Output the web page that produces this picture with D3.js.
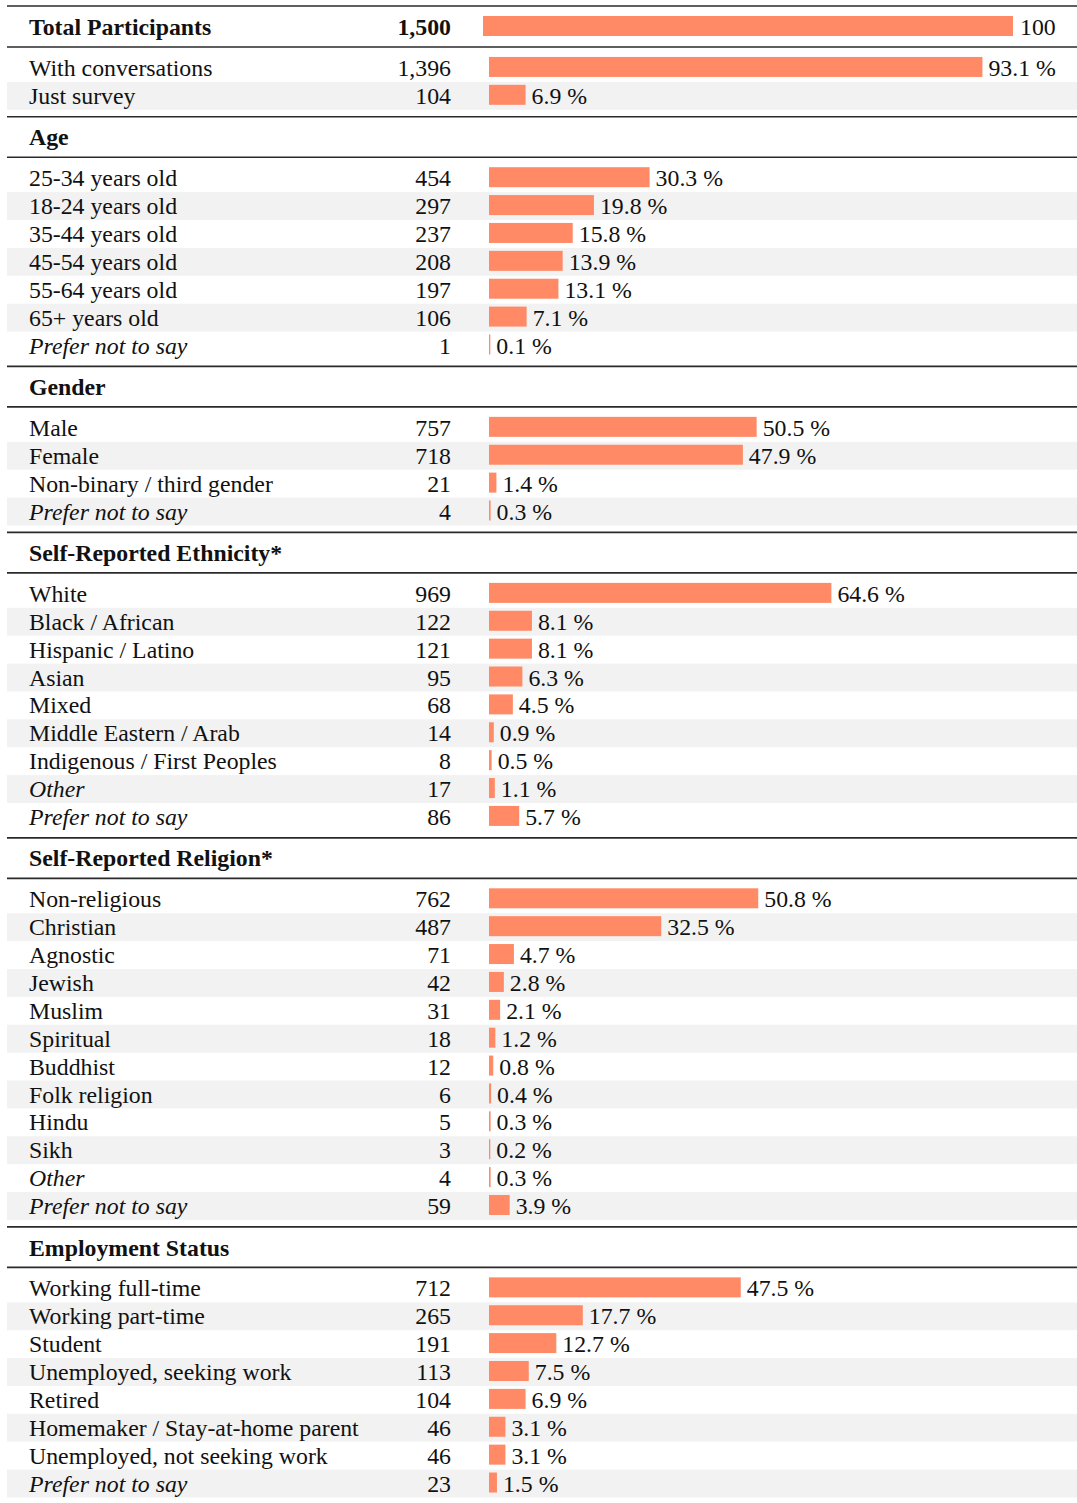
<!DOCTYPE html>
<html lang="en">
<head>
<meta charset="utf-8" />
<title>Participant demographics</title>
<script src="https://cdn.jsdelivr.net/npm/d3@7"></script>
<style>
    body { margin: 0; background: #fff; }
    svg text { font-family: "Liberation Serif", "Times New Roman", serif; fill: #111; }
</style>
</head>
<body>
<svg id="chart"></svg>
<script>
// ---- data ----
const totalLabel = "Total Participants";
const totalCount = 1500;
const totalPct = 100;

const participationLabels = ["With conversations", "Just survey"];
const participationCounts = [1396, 104];
const participationPct = [93.1, 6.9];

const ageLabels = ["25-34 years old", "18-24 years old", "35-44 years old", "45-54 years old",
    "55-64 years old", "65+ years old", "Prefer not to say"];
const ageCounts = [454, 297, 237, 208, 197, 106, 1];
const agePct = [30.3, 19.8, 15.8, 13.9, 13.1, 7.1, 0.1];

const genderLabels = ["Male", "Female", "Non-binary / third gender", "Prefer not to say"];
const genderCounts = [757, 718, 21, 4];
const genderPct = [50.5, 47.9, 1.4, 0.3];

const ethnicityLabels = ["White", "Black / African", "Hispanic / Latino", "Asian", "Mixed",
    "Middle Eastern / Arab", "Indigenous / First Peoples", "Other", "Prefer not to say"];
const ethnicityCounts = [969, 122, 121, 95, 68, 14, 8, 17, 86];
const ethnicityPct = [64.6, 8.1, 8.1, 6.3, 4.5, 0.9, 0.5, 1.1, 5.7];

const religionLabels = ["Non-religious", "Christian", "Agnostic", "Jewish", "Muslim", "Spiritual",
    "Buddhist", "Folk religion", "Hindu", "Sikh", "Other", "Prefer not to say"];
const religionCounts = [762, 487, 71, 42, 31, 18, 12, 6, 5, 3, 4, 59];
const religionPct = [50.8, 32.5, 4.7, 2.8, 2.1, 1.2, 0.8, 0.4, 0.3, 0.2, 0.3, 3.9];

const employmentLabels = ["Working full-time", "Working part-time", "Student", "Unemployed, seeking work",
    "Retired", "Homemaker / Stay-at-home parent", "Unemployed, not seeking work", "Prefer not to say"];
const employmentCounts = [712, 265, 191, 113, 104, 46, 46, 23];
const employmentPct = [47.5, 17.7, 12.7, 7.5, 6.9, 3.1, 3.1, 1.5];

const italicLabels = ["Prefer not to say", "Other"];

// sections in order; the first one has no title row
const sections = [
    { title: null, labels: participationLabels, counts: participationCounts, pct: participationPct },
    { title: "Age", labels: ageLabels, counts: ageCounts, pct: agePct },
    { title: "Gender", labels: genderLabels, counts: genderCounts, pct: genderPct },
    { title: "Self-Reported Ethnicity*", labels: ethnicityLabels, counts: ethnicityCounts, pct: ethnicityPct },
    { title: "Self-Reported Religion*", labels: religionLabels, counts: religionCounts, pct: religionPct },
    { title: "Employment Status", labels: employmentLabels, counts: employmentCounts, pct: employmentPct }
];

// ---- layout ----
const width = 1077, height = 1503;
const left = 7, right = 1077;
const labelX = 29, countX = 451;
const rowH = 27.88, headH = 40.5, pad = 7, barH = 20;
const fontSize = 23.8;
const barColor = "#ff8a65", stripe = "#f2f2f2", ruleColor = "#2a2a2a";

const x = d3.scaleLinear().domain([0, 100]).range([489, 1019]);
const xTotal = d3.scaleLinear().domain([0, 100]).range([483, 1013]);
const fmt = d3.format(",");

const svg = d3.select("#chart").attr("width", width).attr("height", height);
svg.append("rect").attr("width", width).attr("height", height).attr("fill", "#fff");

const gStripes = svg.append("g");
const gRules = svg.append("g");
const gBars = svg.append("g");
const gText = svg.append("g").attr("font-size", fontSize);

function rule(y) {
    gRules.append("line")
        .attr("x1", left).attr("x2", right)
        .attr("y1", y).attr("y2", y)
        .attr("stroke", ruleColor).attr("stroke-width", 1.7);
}

// total row
let y = 6;
rule(y);
const totalMid = y + 21;
gText.append("text").attr("x", labelX).attr("y", totalMid).attr("dy", "0.34em")
    .attr("font-weight", "bold").text(totalLabel);
gText.append("text").attr("x", countX).attr("y", totalMid).attr("dy", "0.34em")
    .attr("text-anchor", "end").attr("font-weight", "bold").text(fmt(totalCount));
gBars.append("rect").attr("x", xTotal(0)).attr("y", totalMid - barH / 2 - 1)
    .attr("width", xTotal(totalPct) - xTotal(0)).attr("height", barH).attr("fill", barColor);
gText.append("text").attr("x", xTotal(totalPct) + 7).attr("y", totalMid).attr("dy", "0.34em")
    .text(totalPct);
y += 41;
rule(y);

sections.forEach(sec => {
    if (sec.title) {
        gText.append("text").attr("x", labelX).attr("y", y + 20.5).attr("dy", "0.34em")
            .attr("font-weight", "bold").text(sec.title);
        y += headH;
        rule(y);
    }
    y += pad;
    const rows = sec.labels.map((label, i) => ({ label, count: sec.counts[i], pct: sec.pct[i], i }));
    const top = y;
    const rowY = i => top + i * rowH;

    gStripes.selectAll(null).data(rows.filter(d => d.i % 2 === 1)).enter()
        .append("rect")
        .attr("x", left).attr("width", right - left)
        .attr("y", d => rowY(d.i)).attr("height", rowH)
        .attr("fill", stripe);

    gBars.selectAll(null).data(rows).enter()
        .append("rect")
        .attr("x", x(0))
        .attr("y", d => rowY(d.i) + rowH / 2 - barH / 2 - 1)
        .attr("width", d => Math.max(x(d.pct) - x(0), 1.3))
        .attr("height", barH)
        .attr("fill", barColor);

    const t = gText.selectAll(null).data(rows).enter();
    t.append("text")
        .attr("x", labelX).attr("y", d => rowY(d.i) + rowH / 2).attr("dy", "0.34em")
        .attr("font-style", d => italicLabels.includes(d.label) ? "italic" : null)
        .text(d => d.label);
    t.append("text")
        .attr("x", countX).attr("y", d => rowY(d.i) + rowH / 2).attr("dy", "0.34em")
        .attr("text-anchor", "end")
        .text(d => fmt(d.count));
    t.append("text")
        .attr("x", d => x(0) + Math.max(x(d.pct) - x(0), 1.3) + 6)
        .attr("y", d => rowY(d.i) + rowH / 2).attr("dy", "0.34em")
        .text(d => d.pct.toFixed(1) + " %");

    y = top + rows.length * rowH + pad;
    if (sec !== sections[sections.length - 1]) rule(y);
});
</script>
</body>
</html>
